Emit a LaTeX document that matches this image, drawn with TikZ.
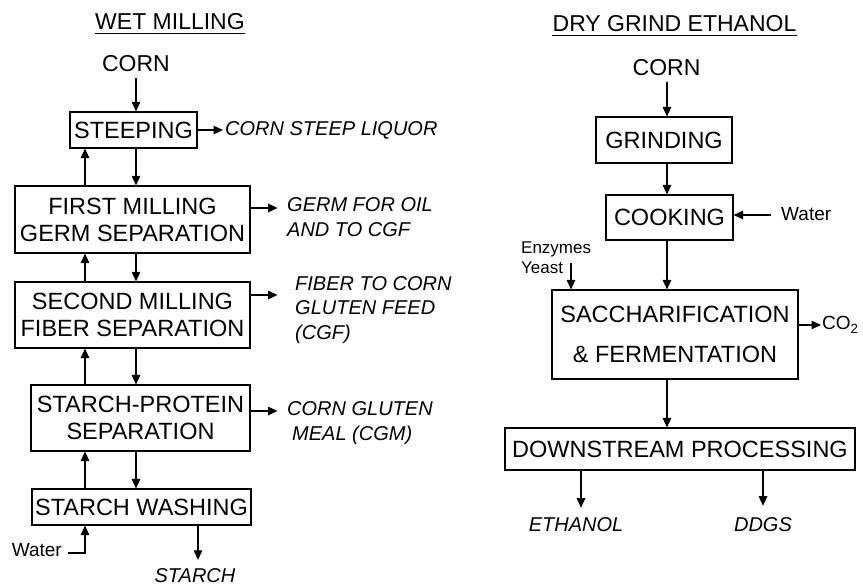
\documentclass[tikz,border=0pt]{standalone}
\usepackage{fontspec}
\setmainfont{Liberation Sans}
\usetikzlibrary{arrows.meta}
\begin{document}
\begin{tikzpicture}[x=1pt,y=-1pt,
  box/.style={draw, line width=1.1pt, inner sep=0pt, align=center, font=\fontsize{23.5}{27}\selectfont},
  hdr/.style={inner sep=0pt, font=\fontsize{23}{27}\selectfont},
  outlbl/.style={inner sep=0pt, align=left, font=\fontsize{20}{24.5}\selectfont\itshape},
  small/.style={inner sep=0pt, align=left, font=\fontsize{19}{22}\selectfont},
  tiny/.style={inner sep=0pt, align=left, font=\fontsize{17}{20}\selectfont},
  arr/.style={-{Triangle[length=9.5pt,width=8.5pt]}, line width=1.1pt},
  ln/.style={line width=1.1pt}]
\useasboundingbox (0,0) rectangle (863,585);

% ---------- WET MILLING ----------
\node[hdr] (wt) at (170,22) {WET MILLING};
\draw[ln] ([yshift=-3.5pt]wt.base west) -- ([yshift=-3.5pt]wt.base east);
\node[hdr] (cornL) at (136,64) {CORN};

\coordinate (dx) at (136,0);
\coordinate (ux) at (85,0);
\coordinate (sx) at (198,0);

\node[box, minimum width=127pt, minimum height=36pt] (steep) at (133.5,130) {STEEPING};
\node[box, minimum width=235pt, minimum height=67pt] (first) at (132.5,219.5) {FIRST MILLING\\GERM SEPARATION};
\node[box, minimum width=235pt, minimum height=66pt] (second) at (132.5,315) {SECOND MILLING\\FIBER SEPARATION};
\node[box, minimum width=219pt, minimum height=66pt] (sp) at (140.5,418) {STARCH-PROTEIN\\SEPARATION};
\node[box, minimum width=219pt, minimum height=36pt] (wash) at (141.5,507) {STARCH WASHING};

\node[outlbl, anchor=west] (csl) at (225,130) {CORN STEEP LIQUOR};
\node[outlbl, anchor=west] (germ) at (287,217) {GERM FOR OIL\\AND TO CGF};
\node[outlbl, anchor=west] (fiber) at (295,310) {FIBER TO CORN\\GLUTEN FEED\\(CGF)};
\node[outlbl, anchor=west] (cgm) at (287,423) {CORN GLUTEN\\\hspace*{5pt}MEAL (CGM)};
\node[small, anchor=east] (water) at (62,550) {Water};
\node[outlbl, anchor=base] (starch) at (195,582) {STARCH};

\draw[arr] (cornL.south -| dx) ++(0,-6pt) -- (steep.north -| dx);
\draw[arr] (steep.south -| dx) -- (first.north -| dx);
\draw[arr] (first.north -| ux) -- (steep.south -| ux);
\draw[arr] (first.south -| dx) -- (second.north -| dx);
\draw[arr] (second.north -| ux) -- (first.south -| ux);
\draw[arr] (second.south -| dx) -- (sp.north -| dx);
\draw[arr] (sp.north -| ux) -- (second.south -| ux);
\draw[arr] (sp.south -| dx) -- (wash.north -| dx);
\draw[arr] (wash.north -| ux) -- (sp.south -| ux);
\draw[arr] ([xshift=6pt,yshift=-3pt]water.east) -| (wash.south -| ux);
\draw[arr] (wash.south -| sx) -- ([yshift=8pt]starch.north -| sx);

\draw[arr] (steep.east) -- ([xshift=-2pt]csl.west);
\draw[arr] ([yshift=11.5pt]first.east) -- ++(27,0) coordinate (ge);
\draw[arr] ([yshift=20pt]second.east) -- ++(27,0) coordinate (fe);
\draw[arr] ([yshift=7pt]sp.east) -- ++(27,0) coordinate (ce);

% ---------- DRY GRIND ETHANOL ----------
\node[hdr] (dt) at (674.5,24) {DRY GRIND ETHANOL};
\draw[ln] ([yshift=-3.5pt]dt.base west) -- ([yshift=-3.5pt]dt.base east);
\node[hdr] (cornR) at (666.5,68) {CORN};

\coordinate (rx) at (667,0);

\node[box, minimum width=136pt, minimum height=46pt] (grind) at (664,140) {GRINDING};
\node[box, minimum width=127pt, minimum height=45pt] (cook) at (669.5,217.5) {COOKING};
\node[box, minimum width=246pt, minimum height=89pt] (sacc) at (675,334.5) {SACCHARIFICATION\\[13pt]\&~FERMENTATION};
\node[box, minimum width=350pt, minimum height=42pt] (down) at (680,449) {DOWNSTREAM PROCESSING};

\node[small, anchor=west] (water2) at (781,214) {Water};
\node[tiny, anchor=north west] (enz) at (521,242) {Enzymes\\Yeast};
\node[small, anchor=west] (co2) at (822,325) {CO\textsubscript{2}};
\node[outlbl] (eth) at (576,525) {ETHANOL};
\node[outlbl] (ddgs) at (763,525) {DDGS};

\coordinate (ey) at (571,263);
\coordinate (ex) at (581,0);
\coordinate (gx) at (763,0);

\draw[arr] (cornR.south -| rx) ++(0,-6pt) -- (grind.north -| rx);
\draw[arr] (grind.south -| rx) -- (cook.north -| rx);
\draw[arr] (cook.south -| rx) -- (sacc.north -| rx);
\draw[arr] (sacc.south -| rx) -- (down.north -| rx);
\draw[arr] ([xshift=-10pt,yshift=-1pt]water2.west) -- ([yshift=-1pt]water2.west -| cook.east);
\draw[arr] (ey) -- (ey |- sacc.north);
\draw[arr] ([yshift=9.5pt]sacc.east) -- ([xshift=-1pt]co2.west);
\draw[arr] (down.south -| ex) -- ([yshift=10pt]eth.north -| ex);
\draw[arr] (down.south -| gx) -- ([yshift=12pt]ddgs.north -| gx);
\end{tikzpicture}
\end{document}
